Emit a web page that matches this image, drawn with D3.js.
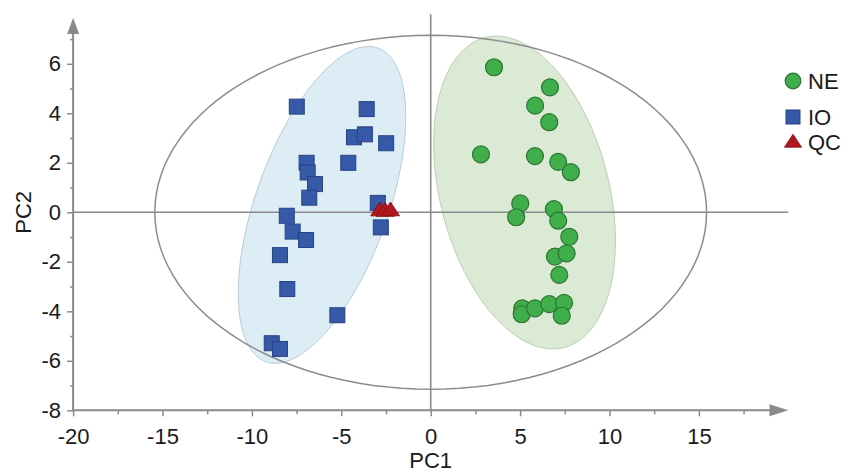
<!DOCTYPE html>
<html>
<head>
<meta charset="utf-8">
<script src="https://cdn.jsdelivr.net/npm/d3@7"></script>
<style>
  body { margin: 0; background: #fff; }
  text { font-family: "Liberation Sans", Arial, sans-serif; fill: #1a1a1a; }
</style>
</head>
<body>
<svg id="chart"></svg>
<script>
// PCA scores
const nePoints = [
  [3.54, 5.86], [6.67, 5.05], [5.84, 4.31], [6.63, 3.64], [2.81, 2.34], [5.83, 2.27],
  [7.13, 2.04], [7.84, 1.62], [5.01, 0.36], [4.78, -0.20], [6.89, 0.13], [7.13, -0.34],
  [7.75, -0.99], [6.95, -1.79], [7.60, -1.66], [7.19, -2.53], [5.12, -3.88], [5.09, -4.12],
  [5.83, -3.88], [6.63, -3.71], [7.46, -3.66], [7.33, -4.18]
];
const ioPoints = [
  [-7.49, 4.27], [-3.58, 4.17], [-4.29, 3.03], [-3.68, 3.15], [-2.49, 2.79], [-4.61, 2.00],
  [-6.94, 2.00], [-6.88, 1.61], [-6.47, 1.14], [-6.79, 0.59], [-2.96, 0.38], [-8.05, -0.14],
  [-7.72, -0.78], [-6.97, -1.12], [-2.79, -0.61], [-8.43, -1.73], [-8.02, -3.10], [-5.22, -4.16],
  [-8.89, -5.29], [-8.43, -5.52]
];
const qcPoints = [[-2.85, 0.08], [-2.55, 0.06], [-2.25, 0.08]];

// ellipses: centre, then two conjugate semi-diameters (data units)
const t2Ellipse = [0, 0, 15.43, 0, 0, 7.15];
const ioEllipse = [-6.08, 0.3, 2.61, 6.40, 3.89, 0];
const neEllipse = [5.25, 0.8, -1.58, 6.32, 4.83, 0];

const xMajor = [-20, -15, -10, -5, 0, 5, 10, 15];
const xMinor = [-17.5, -12.5, -7.5, -2.5, 2.5, 7.5, 12.5, 17.5];
const yMajor = [-8, -6, -4, -2, 0, 2, 4, 6];
const yMinor = [-7, -5, -3, -1, 1, 3, 5, 7];

const groups = ["NE", "IO", "QC"];

const width = 848, height = 473;
const svg = d3.select('#chart').attr('width', width).attr('height', height);

const xScale = d3.scaleLinear().domain([-20, 20]).range([73.1, 788.3]);
const yScale = d3.scaleLinear().domain([-8, 8]).range([410.3, 14.3]);

const axisColor = '#8a8a8a';

// flat triangle symbol
const flatTriangle = {
  draw(ctx, size) {
    const w = Math.sqrt(size), h = w * 0.76;
    ctx.moveTo(0, -h * 0.6);
    ctx.lineTo(w / 2, h * 0.4);
    ctx.lineTo(-w / 2, h * 0.4);
    ctx.closePath();
  }
};

function ellipsePath(e) {
  const pts = d3.range(0, 121).map(i => {
    const t = i / 120 * 2 * Math.PI;
    return [xScale(e[0] + e[2] * Math.cos(t) + e[4] * Math.sin(t)),
            yScale(e[1] + e[3] * Math.cos(t) + e[5] * Math.sin(t))];
  });
  return d3.line()(pts) + 'Z';
}

// group ellipses
svg.append('path').attr('d', ellipsePath(ioEllipse))
  .attr('fill', '#dcedf6').attr('stroke', '#b7cbd6').attr('stroke-width', 1);
svg.append('path').attr('d', ellipsePath(neEllipse))
  .attr('fill', '#dbead5').attr('stroke', '#bccfb4').attr('stroke-width', 1);

// Hotelling T2 ellipse
svg.append('path').attr('d', ellipsePath(t2Ellipse))
  .attr('fill', 'none').attr('stroke', '#8c8c8c').attr('stroke-width', 1.5);

// zero lines
svg.append('line')
  .attr('x1', xScale(-20)).attr('x2', xScale(20))
  .attr('y1', yScale(0)).attr('y2', yScale(0))
  .attr('stroke', axisColor).attr('stroke-width', 1.6);
svg.append('line')
  .attr('x1', xScale(0)).attr('x2', xScale(0))
  .attr('y1', yScale(-8)).attr('y2', yScale(8))
  .attr('stroke', axisColor).attr('stroke-width', 1.6);

// axes (plain hyphen for negatives, like the original)
const fmt = d => String(d);
const xAxisG = svg.append('g').attr('transform', `translate(0,${yScale(-8)})`);
xAxisG.append('g').call(d3.axisBottom(xScale).tickValues(xMinor).tickSize(4).tickFormat('').tickSizeOuter(0));
xAxisG.append('g').call(d3.axisBottom(xScale).tickValues(xMajor).tickSize(6).tickPadding(12).tickFormat(fmt).tickSizeOuter(0));

const yAxisG = svg.append('g').attr('transform', `translate(${xScale(-20)},0)`);
yAxisG.append('g').call(d3.axisLeft(yScale).tickValues(yMinor).tickSize(3).tickFormat('').tickSizeOuter(0));
yAxisG.append('g').call(d3.axisLeft(yScale).tickValues(yMajor).tickSize(6).tickPadding(6).tickFormat(fmt).tickSizeOuter(0));

svg.selectAll('.domain').remove();
svg.selectAll('.tick line').attr('stroke', axisColor).attr('stroke-width', 1.5);
svg.selectAll('.tick text').attr('font-size', 22).attr('fill', '#1a1a1a')
  .attr('font-family', '"Liberation Sans", Arial, sans-serif');

// axis lines with arrows
svg.append('line')
  .attr('x1', xScale(-20)).attr('x2', xScale(19.2))
  .attr('y1', yScale(-8)).attr('y2', yScale(-8))
  .attr('stroke', axisColor).attr('stroke-width', 2);
svg.append('path')
  .attr('d', `M${xScale(20)},${yScale(-8)} L${xScale(18.95)},${yScale(-8) - 6} L${xScale(18.95)},${yScale(-8) + 6} Z`)
  .attr('fill', axisColor);
svg.append('line')
  .attr('x1', xScale(-20)).attr('x2', xScale(-20))
  .attr('y1', yScale(-8)).attr('y2', yScale(7.3))
  .attr('stroke', axisColor).attr('stroke-width', 2);
svg.append('path')
  .attr('d', `M${xScale(-20)},${yScale(7.85)} L${xScale(-20) - 6},${yScale(7.2)} L${xScale(-20) + 6},${yScale(7.2)} Z`)
  .attr('fill', axisColor);

// axis titles
svg.append('text').attr('x', xScale(0)).attr('y', 468)
  .attr('text-anchor', 'middle').attr('font-size', 22).text('PC1');
svg.append('text')
  .attr('transform', `translate(31,${yScale(0)}) rotate(-90)`)
  .attr('text-anchor', 'middle').attr('font-size', 22).text('PC2');

// markers
svg.append('g').selectAll('rect')
  .data(ioPoints)
  .join('rect')
    .attr('x', d => xScale(d[0]) - 7.5)
    .attr('y', d => yScale(d[1]) - 7.5)
    .attr('width', 15).attr('height', 15)
    .attr('fill', '#3659a8').attr('stroke', '#284282').attr('stroke-width', 1);

svg.append('g').selectAll('circle')
  .data(nePoints)
  .join('circle')
    .attr('cx', d => xScale(d[0]))
    .attr('cy', d => yScale(d[1]))
    .attr('r', 8.5)
    .attr('fill', '#3fae4b').attr('stroke', '#2b7534').attr('stroke-width', 1.2);

svg.append('g').selectAll('path')
  .data(qcPoints)
  .join('path')
    .attr('transform', d => `translate(${xScale(d[0])},${yScale(d[1])})`)
    .attr('d', d3.symbol().type(flatTriangle).size(330))
    .attr('fill', '#b3161b').attr('stroke', '#7d0d10').attr('stroke-width', 0.8);

// legend
const legend = svg.append('g').attr('transform', 'translate(793,0)');
const legendY = [81, 117, 142];
legend.append('circle').attr('cx', 0).attr('cy', legendY[0]).attr('r', 7.8)
  .attr('fill', '#3fae4b').attr('stroke', '#2b7534').attr('stroke-width', 1.2);
legend.append('rect').attr('x', -7).attr('y', legendY[1] - 7).attr('width', 14).attr('height', 14)
  .attr('fill', '#3659a8').attr('stroke', '#284282').attr('stroke-width', 1);
legend.append('path').attr('transform', `translate(0,${legendY[2]})`)
  .attr('d', d3.symbol().type(flatTriangle).size(290))
  .attr('fill', '#b3161b').attr('stroke', '#7d0d10').attr('stroke-width', 0.8);
legend.selectAll('text.lbl')
  .data(groups)
  .join('text')
    .attr('class', 'lbl')
    .attr('x', 15)
    .attr('y', (d, i) => legendY[i] + 8)
    .attr('font-size', 22)
    .text(d => d);
</script>
</body>
</html>
